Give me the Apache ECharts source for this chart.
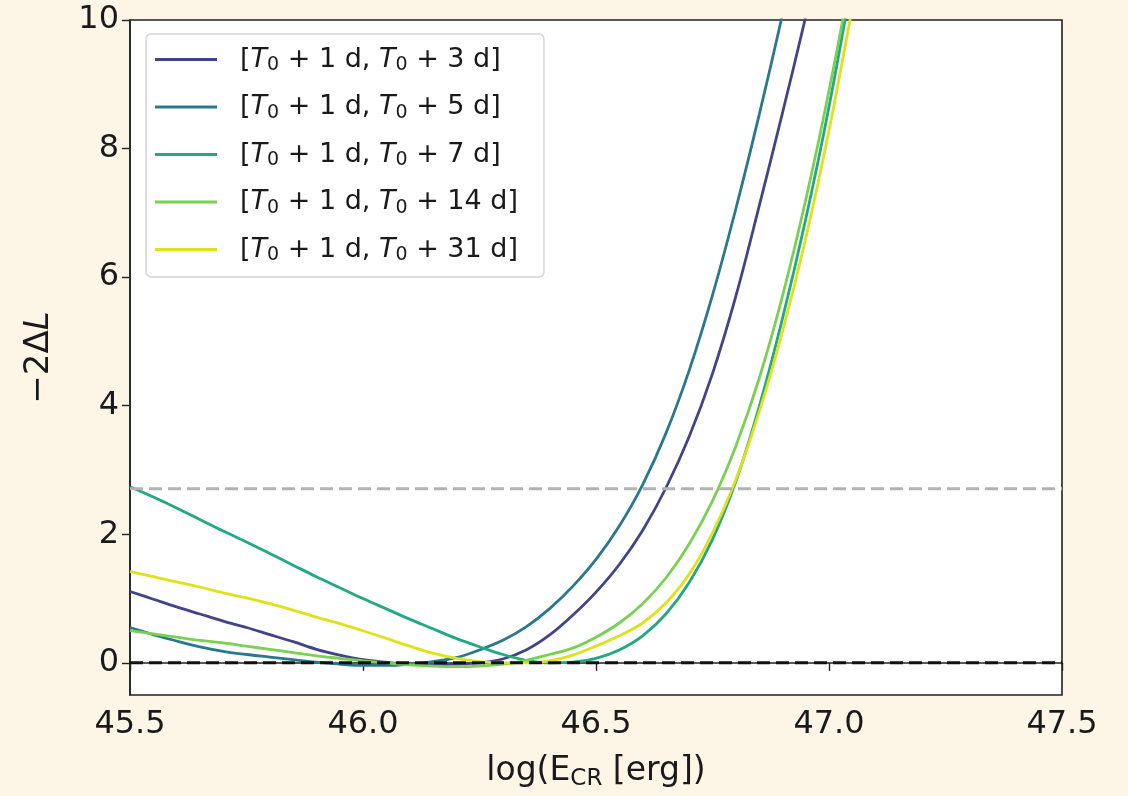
<!DOCTYPE html>
<html>
<head>
<meta charset="utf-8">
<script src="https://cdn.jsdelivr.net/npm/echarts@6/dist/echarts.min.js"></script>
<style>
html,body{margin:0;padding:0;background:#fdf5e6;}
#chart{width:1128px;height:796px;}
</style>
</head>
<body>
<div id="chart"></div>
<script>
// x grid of sampled positions (log E_CR [erg])
const xs = [45.50,45.55,45.60,45.65,45.70,45.75,45.80,45.85,45.90,45.95,
            46.00,46.05,46.10,46.15,46.20,46.25,46.30,46.35,46.40,46.45,
            46.50,46.55,46.60,46.65,46.70,46.75,46.80,46.85,46.90,46.95,
            47.00,47.05,47.10];
// -2ΔL values
const d3  = [1.11,0.99,0.87,0.76,0.65,0.55,0.44,0.33,0.21,0.12,
             0.05,0.01,-0.02,-0.03,-0.02,0.00,0.06,0.20,0.43,0.74,
             1.10,1.53,2.06,2.72,3.52,4.50,5.70,7.10,8.55,10.05,
             11.65,null,null];
const d5  = [0.55,0.44,0.34,0.25,0.18,0.13,0.09,0.05,0.01,-0.02,
             -0.04,-0.04,-0.02,0.02,0.08,0.20,0.35,0.56,0.84,1.19,
             1.61,2.13,2.77,3.57,4.55,5.72,7.06,8.52,10.08,11.75,
             null,null,null];
const d7  = [2.74,2.58,2.41,2.23,2.05,1.88,1.70,1.52,1.34,1.17,
             1.00,0.84,0.68,0.53,0.38,0.25,0.13,0.04,0.00,0.01,
             0.07,0.20,0.42,0.76,1.25,1.92,2.82,3.98,5.35,6.90,
             8.65,10.65,12.85];
const d14 = [0.50,0.45,0.40,0.35,0.31,0.26,0.21,0.16,0.11,0.07,
             0.03,0.00,-0.03,-0.05,-0.06,-0.05,-0.02,0.04,0.13,0.23,
             0.40,0.62,0.92,1.32,1.85,2.52,3.37,4.42,5.70,7.20,
             8.90,10.80,12.90];
const d31 = [1.42,1.34,1.26,1.18,1.09,1.01,0.92,0.82,0.71,0.61,
             0.50,0.38,0.26,0.15,0.07,0.02,0.00,0.00,0.03,0.12,
             0.26,0.42,0.62,0.93,1.38,2.02,2.85,3.90,5.15,6.60,
             8.28,10.20,12.30];
const endDays = [3, 5, 7, 14, 31];
const seriesValues = [d3, d5, d7, d14, d31];
const colors = ['#414487', '#2a788e', '#22a884', '#7ad151', '#dde318'];
const xTicks = [45.5, 46.0, 46.5, 47.0, 47.5];
const yTicks = [0, 2, 4, 6, 8, 10];
const thresholdValue = 2.71;
const zeroValue = 0;

const FONT = 'DejaVu Sans';
const TXT = '#1a1a1a';
const names = endDays.map(d => '[T0 + 1 d, T0 + ' + d + ' d]');

const lineSeries = seriesValues.map((vals, k) => ({
  name: names[k],
  type: 'line',
  data: xs.map((x, i) => [x, vals[i]]),
  showSymbol: false,
  symbol: 'none',
  smooth: 0.35,
  connectNulls: false,
  clip: true,
  lineStyle: { color: colors[k], width: 2.8 },
  itemStyle: { color: colors[k] },
  z: 3 + k
}));

const refSeries = [
  { name: 'thr', type: 'line', data: [[45.5, thresholdValue], [47.5, thresholdValue]],
    symbol: 'none', lineStyle: { color: '#b3b3b3', width: 3, type: [13, 6] }, z: 10, silent: true },
  { name: 'zero', type: 'line', data: [[45.5, zeroValue], [47.5, zeroValue]],
    symbol: 'none', lineStyle: { color: '#111111', width: 3, type: [13, 6] }, z: 11, silent: true }
];

const chart = echarts.init(document.getElementById('chart'), null, { renderer: 'canvas' });
chart.setOption({
  backgroundColor: '#fdf5e6',
  animation: false,
  grid: { left: 130, right: 66, top: 20, bottom: 99, show: true,
          backgroundColor: '#ffffff', borderColor: '#222222', borderWidth: 1.6 },
  legend: {
    data: names,
    left: 146, top: 34,
    orient: 'vertical',
    icon: 'rect',
    itemWidth: 62, itemHeight: 3, itemGap: 18.5,
    padding: [12, 26, 12, 9],
    backgroundColor: 'rgba(255,255,255,0.85)',
    borderColor: '#d4d4d4', borderWidth: 1.5, borderRadius: 5,
    formatter: function (name) {
      const d = name.match(/\+ (\d+) d\]$/)[1];
      return '{b|[}{i|T}{s|0}{t| + 1 d, }{i|T}{s|0}{t| + ' + d + ' d]}';
    },
    textStyle: {
      fontFamily: FONT, fontSize: 27, color: TXT,
      rich: {
        b: { fontFamily: FONT, fontSize: 27, lineHeight: 31, padding: [0, 0, 0, 18], verticalAlign: 'middle', color: TXT },
        t: { fontFamily: FONT, fontSize: 27, lineHeight: 31, verticalAlign: 'middle', color: TXT },
        i: { fontFamily: FONT, fontSize: 27, fontStyle: 'italic', lineHeight: 31, verticalAlign: 'middle', color: TXT },
        s: { fontFamily: FONT, fontSize: 19, lineHeight: 31, verticalAlign: 'bottom', color: TXT }
      }
    }
  },
  xAxis: {
    type: 'value', min: 45.5, max: 47.5, interval: 0.5,
    name: '{t|log(E}{s|CR}{t| [erg])}',
    nameLocation: 'middle', nameGap: 56,
    nameTextStyle: {
      rich: {
        t: { fontFamily: FONT, fontSize: 33, color: TXT, lineHeight: 40, verticalAlign: 'middle' },
        s: { fontFamily: FONT, fontSize: 23, color: TXT, lineHeight: 40, verticalAlign: 'bottom' }
      }
    },
    axisLine: { show: true, lineStyle: { color: '#222', width: 1.6 } },
    axisTick: { show: true, length: 8, inside: false, lineStyle: { color: '#222', width: 1.4 } },
    axisLabel: { fontFamily: FONT, fontSize: 32, color: TXT, margin: 14,
                 formatter: v => xTicks.includes(+v.toFixed(1)) ? v.toFixed(1) : '' },
    splitLine: { show: false }
  },
  yAxis: {
    type: 'value', min: -0.5, max: 10,
    name: '{t|−2Δ}{i|L}',
    nameLocation: 'middle', nameGap: 74, nameRotate: 90,
    nameTextStyle: {
      rich: {
        t: { fontFamily: FONT, fontSize: 34, color: TXT },
        i: { fontFamily: FONT, fontSize: 34, fontStyle: 'italic', color: TXT }
      }
    },
    axisLine: { show: true, lineStyle: { color: '#222', width: 1.6 } },
    axisTick: { show: true, length: 8, inside: false, customValues: yTicks, lineStyle: { color: '#222', width: 1.4 } },
    axisLabel: { fontFamily: FONT, fontSize: 32, color: TXT, margin: 11, customValues: yTicks,
                 formatter: v => String(v) },
    splitLine: { show: false }
  },
  series: lineSeries.concat(refSeries)
});
</script>
</body>
</html>
